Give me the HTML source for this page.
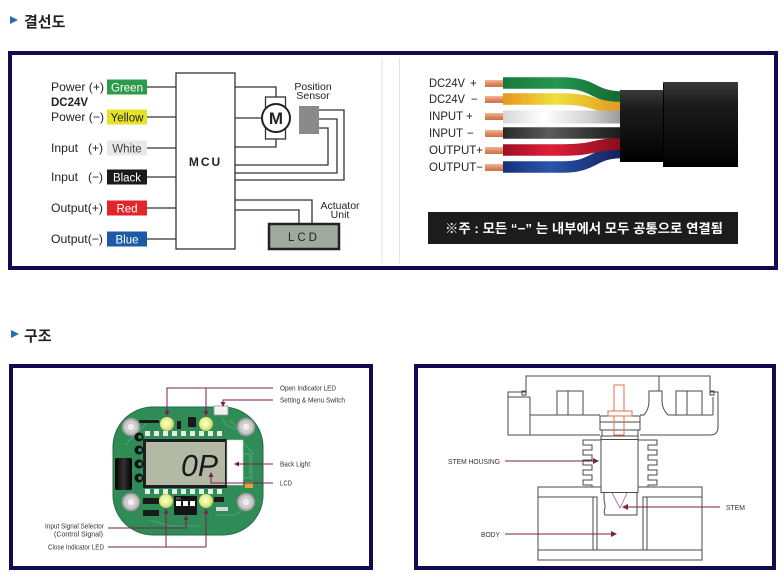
<!DOCTYPE html>
<html><head><meta charset="utf-8">
<style>
html,body{margin:0;padding:0;background:#fff;}
svg{display:block;}
text{font-family:"Liberation Sans","Noto Sans CJK KR",sans-serif;}
.k{font-family:"Liberation Sans","Noto Sans CJK KR",sans-serif;}
</style></head>
<body>
<svg width="784" height="575" viewBox="0 0 784 575" xmlns="http://www.w3.org/2000/svg">
<defs>
  <linearGradient id="gG" x1="503" y1="0" x2="620" y2="0" gradientUnits="userSpaceOnUse">
    <stop offset="0" stop-color="#157a3c"/><stop offset="0.45" stop-color="#24964f"/><stop offset="1" stop-color="#146a34"/></linearGradient>
  <linearGradient id="gY" x1="503" y1="0" x2="620" y2="0" gradientUnits="userSpaceOnUse">
    <stop offset="0" stop-color="#e8961c"/><stop offset="0.45" stop-color="#efe03c"/><stop offset="1" stop-color="#e49a1e"/></linearGradient>
  <linearGradient id="gW" x1="503" y1="0" x2="620" y2="0" gradientUnits="userSpaceOnUse">
    <stop offset="0" stop-color="#d6d6d6"/><stop offset="0.35" stop-color="#ffffff"/><stop offset="0.75" stop-color="#d0d0d0"/><stop offset="1" stop-color="#9a9a9a"/></linearGradient>
  <linearGradient id="gK" x1="503" y1="0" x2="620" y2="0" gradientUnits="userSpaceOnUse">
    <stop offset="0" stop-color="#2a2a2a"/><stop offset="0.4" stop-color="#5a5a5a"/><stop offset="1" stop-color="#1a1a1a"/></linearGradient>
  <linearGradient id="gR" x1="503" y1="0" x2="620" y2="0" gradientUnits="userSpaceOnUse">
    <stop offset="0" stop-color="#9c1022"/><stop offset="0.4" stop-color="#e01e3a"/><stop offset="1" stop-color="#8a0e1e"/></linearGradient>
  <linearGradient id="gB" x1="503" y1="0" x2="620" y2="0" gradientUnits="userSpaceOnUse">
    <stop offset="0" stop-color="#17307e"/><stop offset="0.4" stop-color="#2a56ac"/><stop offset="1" stop-color="#15205e"/></linearGradient>
  <linearGradient id="gC" x1="0" y1="0" x2="0" y2="1">
    <stop offset="0" stop-color="#3a3a3a"/><stop offset="0.25" stop-color="#1c1c1c"/><stop offset="0.7" stop-color="#0c0c0c"/><stop offset="1" stop-color="#000"/></linearGradient>
  <linearGradient id="gCu" x1="0" y1="0" x2="0" y2="1">
    <stop offset="0" stop-color="#f2b896"/><stop offset="0.5" stop-color="#e08a62"/><stop offset="1" stop-color="#c8704c"/></linearGradient>
  <linearGradient id="gCyl" x1="0" y1="0" x2="1" y2="0">
    <stop offset="0" stop-color="#000"/><stop offset="0.5" stop-color="#333"/><stop offset="1" stop-color="#000"/></linearGradient>
  <radialGradient id="gLed" cx="0.45" cy="0.45" r="0.6">
    <stop offset="0" stop-color="#fbffd8"/><stop offset="0.6" stop-color="#e6ee84"/><stop offset="1" stop-color="#b8c060"/></radialGradient>
  <radialGradient id="gScr" cx="0.5" cy="0.5" r="0.5">
    <stop offset="0" stop-color="#f4f4f4"/><stop offset="0.6" stop-color="#d2d2d2"/><stop offset="1" stop-color="#9a9a9a"/></radialGradient>
</defs>

<!-- Headers -->
<polygon points="10,16 18,20 10,24" fill="#2a6db5"/>
<text x="24" y="27" font-size="15" font-weight="bold" fill="#222" class="k">결선도</text>
<polygon points="11,330 19,334 11,338" fill="#2a6db5"/>
<text x="24" y="341" font-size="15" font-weight="bold" fill="#222" class="k">구조</text>

<!-- Top panel frame -->
<rect x="10" y="53" width="766" height="215" fill="#fff" stroke="#0f0b4e" stroke-width="4"/>
<line x1="382" y1="58" x2="382" y2="263" stroke="#e2e2e2" stroke-width="1"/>
<line x1="399.5" y1="58" x2="399.5" y2="263" stroke="#e2e2e2" stroke-width="1"/>

<!-- Left wiring diagram -->
<g font-size="12" fill="#222">
  <text x="51" y="91" textLength="53" lengthAdjust="spacingAndGlyphs">Power (+)</text>
  <text x="51" y="106" font-weight="bold" textLength="37" lengthAdjust="spacingAndGlyphs">DC24V</text>
  <text x="51" y="121" textLength="53" lengthAdjust="spacingAndGlyphs">Power (−)</text>
  <text x="51" y="152" textLength="27" lengthAdjust="spacingAndGlyphs">Input</text>
  <text x="88" y="152" textLength="15" lengthAdjust="spacingAndGlyphs">(+)</text>
  <text x="51" y="181" textLength="27" lengthAdjust="spacingAndGlyphs">Input</text>
  <text x="88" y="181" textLength="15" lengthAdjust="spacingAndGlyphs">(−)</text>
  <text x="51" y="212" textLength="52" lengthAdjust="spacingAndGlyphs">Output(+)</text>
  <text x="51" y="243" textLength="52" lengthAdjust="spacingAndGlyphs">Output(−)</text>
</g>
<rect x="107" y="79.5" width="40" height="15" fill="#2e9a4c"/>
<rect x="107" y="109.5" width="40" height="15" fill="#e6e224"/>
<rect x="107" y="140.5" width="40" height="15" fill="#e8e8e8"/>
<rect x="107" y="169.5" width="40" height="15" fill="#1a1a1a"/>
<rect x="107" y="200.5" width="40" height="15" fill="#e0262b"/>
<rect x="107" y="231.5" width="40" height="15" fill="#1b5aa6"/>
<g font-size="11.5" text-anchor="middle">
  <text x="127" y="91.5" fill="#fff">Green</text>
  <text x="127" y="121.5" fill="#222">Yellow</text>
  <text x="127" y="152.5" fill="#444">White</text>
  <text x="127" y="181.5" fill="#fff">Black</text>
  <text x="127" y="212.5" fill="#fff">Red</text>
  <text x="127" y="243.5" fill="#fff">Blue</text>
</g>
<g stroke="#333" stroke-width="1.3" fill="none">
  <line x1="147" y1="87" x2="176" y2="87"/>
  <line x1="147" y1="117" x2="176" y2="117"/>
  <line x1="147" y1="148" x2="176" y2="148"/>
  <line x1="147" y1="177" x2="176" y2="177"/>
  <line x1="147" y1="208" x2="176" y2="208"/>
  <line x1="147" y1="239" x2="176" y2="239"/>
  <rect x="176" y="73" width="59" height="176" fill="#fff"/>
  <polyline points="235,87 276,87 276,97"/>
  <line x1="235" y1="118" x2="262" y2="118"/>
  <polyline points="235,147 276,147 276,139"/>
  <rect x="265.5" y="97" width="20" height="42" fill="#fff"/>
  <polyline points="319,110 344,110 344,180 235,180"/>
  <polyline points="319,119 337,119 337,173 235,173"/>
  <polyline points="319,128 328,128 328,165 235,165"/>
  <polyline points="235,200 312,200 312,223"/>
  <polyline points="235,210 299,210 299,223"/>
</g>
<text x="205.5" y="166" font-size="12" font-weight="bold" text-anchor="middle" fill="#222" letter-spacing="2">MCU</text>
<circle cx="276" cy="118" r="14" fill="#fff" stroke="#222" stroke-width="2"/>
<text x="276" y="124" font-size="17" font-weight="bold" text-anchor="middle" fill="#222">M</text>
<rect x="299" y="106" width="20" height="28" fill="#8a8a8a"/>
<text x="313" y="90" font-size="10.5" text-anchor="middle" fill="#222">Position</text>
<text x="313" y="99" font-size="10.5" text-anchor="middle" fill="#222">Sensor</text>
<text x="340" y="209" font-size="10.5" text-anchor="middle" fill="#222">Actuator</text>
<text x="340" y="218" font-size="10.5" text-anchor="middle" fill="#222">Unit</text>
<rect x="269" y="224" width="70" height="25" fill="#9eaa9e" stroke="#222" stroke-width="2.5"/>
<text x="304" y="241" font-size="11.5" text-anchor="middle" fill="#222" letter-spacing="3">LCD</text>

<!-- Right cable diagram -->
<g font-size="11.5" fill="#222">
  <text x="429" y="87" textLength="36" lengthAdjust="spacingAndGlyphs">DC24V</text>
  <text x="470" y="87">+</text>
  <text x="429" y="103" textLength="36" lengthAdjust="spacingAndGlyphs">DC24V</text>
  <text x="471" y="103">−</text>
  <text x="429" y="120" textLength="34" lengthAdjust="spacingAndGlyphs">INPUT</text>
  <text x="466" y="120">+</text>
  <text x="429" y="137" textLength="34" lengthAdjust="spacingAndGlyphs">INPUT</text>
  <text x="467" y="137">−</text>
  <text x="429" y="154" textLength="54" lengthAdjust="spacingAndGlyphs">OUTPUT+</text>
  <text x="429" y="171" textLength="54" lengthAdjust="spacingAndGlyphs">OUTPUT−</text>
</g>
<g fill="url(#gCu)">
  <rect x="485" y="80" width="18" height="7"/>
  <rect x="485" y="96" width="18" height="7"/>
  <rect x="485" y="113" width="18" height="7"/>
  <rect x="485" y="130" width="18" height="7"/>
  <rect x="485" y="147" width="18" height="7"/>
  <rect x="485" y="164" width="18" height="7"/>
</g>
<g fill="none" stroke-width="11.5">
  <path d="M503,83 L562,83 C596,83 592,97 622,97" stroke="url(#gG)"/>
  <path d="M503,99 L562,99 C596,99 592,107.5 622,107.5" stroke="url(#gY)"/>
  <path d="M503,117 L622,117" stroke="url(#gW)" stroke-width="13"/>
  <path d="M503,133 L622,133" stroke="url(#gK)"/>
  <path d="M503,167 L562,167 C596,167 592,152.5 622,152.5" stroke="url(#gB)"/>
  <path d="M503,150 L562,150 C596,150 592,144 622,144" stroke="url(#gR)"/>
</g>
<rect x="620" y="90" width="44" height="72" fill="url(#gC)"/>
<rect x="663" y="82" width="75" height="85" fill="url(#gC)"/>
<line x1="663.5" y1="84" x2="663.5" y2="165" stroke="#000" stroke-width="1"/>

<rect x="428" y="212" width="310" height="32" fill="#1c1c1c"/>
<text x="445" y="233" font-size="13" font-weight="bold" fill="#fff" class="k" textLength="278" lengthAdjust="spacingAndGlyphs">※주 : 모든 “−” 는 내부에서 모두 공통으로 연결됨</text>

<!-- Bottom panels frames -->
<rect x="11" y="366" width="360" height="202" fill="#fff" stroke="#0f0b4e" stroke-width="4"/>
<rect x="416" y="366" width="358" height="202" fill="#fff" stroke="#0f0b4e" stroke-width="4"/>

<!-- PCB -->
<rect x="113" y="407" width="150" height="128" rx="40" ry="40" fill="#2f8c56" stroke="#236c42" stroke-width="1"/>
<g stroke="#56b07c" stroke-width="0.8" fill="none" opacity="0.9">
  <polyline points="125,445 150,420 175,420"/>
  <polyline points="240,440 252,452 252,480"/>
  <polyline points="120,470 135,470"/>
  <polyline points="230,420 240,432 248,432"/>
  <polyline points="150,520 170,526 200,526"/>
  <polyline points="215,515 235,515 250,505"/>
  <polyline points="222,417 226,425 236,430"/>
</g>
<!-- pad rows -->
<g fill="#e6efe6">
  <rect x="145" y="431" width="5" height="5"/><rect x="154" y="431" width="5" height="5"/><rect x="163" y="431" width="5" height="5"/><rect x="172" y="431" width="5" height="5"/><rect x="181" y="431" width="5" height="5"/><rect x="190" y="431" width="5" height="5"/><rect x="199" y="431" width="5" height="5"/><rect x="208" y="431" width="5" height="5"/><rect x="217" y="431" width="5" height="5"/>
  <rect x="145" y="489" width="5" height="5"/><rect x="154" y="489" width="5" height="5"/><rect x="163" y="489" width="5" height="5"/><rect x="172" y="489" width="5" height="5"/><rect x="181" y="489" width="5" height="5"/><rect x="190" y="489" width="5" height="5"/><rect x="199" y="489" width="5" height="5"/><rect x="208" y="489" width="5" height="5"/><rect x="217" y="489" width="5" height="5"/>
</g>
<g fill="#1a1a1a">
  <rect x="139" y="420" width="20" height="3"/>
  <rect x="177" y="421" width="4" height="8"/>
  <rect x="188" y="417" width="8" height="10"/>
  <rect x="143" y="498" width="16" height="6"/>
  <rect x="143" y="510" width="16" height="6"/>
  <rect x="214" y="497" width="10" height="5"/>
</g>
<rect x="216" y="507" width="12" height="4" fill="#d8d8d8"/>
<rect x="214" y="406" width="14" height="9" fill="#f2f2f2" stroke="#999" stroke-width="0.8"/>
<rect x="243" y="454" width="7" height="24" fill="none" stroke="#5fb585" stroke-width="0.8"/>
<rect x="245" y="482" width="8" height="6" fill="#e8a040"/>
<!-- screws -->
<g>
  <circle cx="131" cy="427" r="9" fill="url(#gScr)" stroke="#888" stroke-width="0.8"/>
  <circle cx="246" cy="427" r="9" fill="url(#gScr)" stroke="#888" stroke-width="0.8"/>
  <circle cx="131" cy="502" r="9" fill="url(#gScr)" stroke="#888" stroke-width="0.8"/>
  <circle cx="246" cy="502" r="9" fill="url(#gScr)" stroke="#888" stroke-width="0.8"/>
  <circle cx="131" cy="427" r="4" fill="#eee" stroke="#aaa" stroke-width="0.6"/>
  <circle cx="246" cy="427" r="4" fill="#eee" stroke="#aaa" stroke-width="0.6"/>
  <circle cx="131" cy="502" r="4" fill="#eee" stroke="#aaa" stroke-width="0.6"/>
  <circle cx="246" cy="502" r="4" fill="#eee" stroke="#aaa" stroke-width="0.6"/>
</g>
<!-- C shapes -->
<g fill="#111">
  <circle cx="139" cy="437" r="4.5"/><circle cx="139" cy="450" r="4.5"/><circle cx="139" cy="464" r="4.5"/><circle cx="139" cy="478" r="4.5"/>
</g>
<g fill="#2f8c56">
  <circle cx="140" cy="437" r="2"/><circle cx="140" cy="450" r="2"/><circle cx="140" cy="464" r="2"/><circle cx="140" cy="478" r="2"/>
</g>
<!-- black cylinder -->
<rect x="115" y="458" width="17" height="32" rx="2" fill="url(#gCyl)"/>
<!-- LCD -->
<rect x="143" y="439" width="84" height="49" fill="#1e1e1e"/>
<rect x="146" y="442" width="79" height="43" fill="#b4b9a6"/>
<rect x="227" y="440" width="16" height="45" fill="#fff" stroke="#d0d0d0" stroke-width="0.6"/>
<text x="181" y="476" font-size="31" font-style="italic" fill="#1a1a1a" textLength="37" lengthAdjust="spacingAndGlyphs">0P</text>
<!-- LEDs -->
<circle cx="167" cy="424" r="7" fill="url(#gLed)"/>
<circle cx="206" cy="424" r="7" fill="url(#gLed)"/>
<circle cx="166" cy="501" r="7" fill="url(#gLed)"/>
<circle cx="206" cy="501" r="7" fill="url(#gLed)"/>
<!-- DIP -->
<rect x="174" y="496" width="23" height="19" fill="#141414"/>
<rect x="176" y="501" width="5" height="5" fill="#fff"/>
<rect x="183" y="501" width="5" height="5" fill="#fff"/>
<rect x="190" y="501" width="5" height="5" fill="#fff"/>
<text x="176" y="499.5" font-size="3" fill="#fff">ON</text>

<!-- PCB callouts -->
<g stroke="#7b1f4f" stroke-width="1" fill="none">
  <polyline points="167,412 167,388 273,388"/>
  <line x1="206" y1="388" x2="206" y2="412"/>
  <polyline points="223,403 223,400 273,400"/>
  <line x1="238" y1="464" x2="273" y2="464"/>
  <polyline points="211,476 211,483 273,483"/>
  <polyline points="108,528 186,528 186,519"/>
  <line x1="108" y1="547" x2="206" y2="547"/>
  <line x1="166" y1="547" x2="166" y2="513"/>
  <line x1="206" y1="547" x2="206" y2="513"/>
</g>
<g fill="#7b1f4f">
  <polygon points="164.5,411 169.5,411 167,416"/>
  <polygon points="203.5,411 208.5,411 206,416"/>
  <polygon points="220.5,402 225.5,402 223,407"/>
  <polygon points="239,461.5 239,466.5 234,464"/>
  <polygon points="208.5,477 213.5,477 211,472"/>
  <polygon points="183.5,520 188.5,520 186,515"/>
  <polygon points="163.5,514 168.5,514 166,509"/>
  <polygon points="203.5,514 208.5,514 206,509"/>
</g>
<g font-size="7.5" fill="#333">
  <text x="280" y="390.5" textLength="56" lengthAdjust="spacingAndGlyphs">Open Indicator LED</text>
  <text x="280" y="402.5" textLength="65" lengthAdjust="spacingAndGlyphs">Setting &amp; Menu Switch</text>
  <text x="280" y="466.5" textLength="30" lengthAdjust="spacingAndGlyphs">Back Light</text>
  <text x="280" y="485.5" textLength="12" lengthAdjust="spacingAndGlyphs">LCD</text>
  <text x="45" y="528.5" textLength="59" lengthAdjust="spacingAndGlyphs">Input Signal Selector</text>
  <text x="54" y="536.5" textLength="49" lengthAdjust="spacingAndGlyphs">(Control Signal)</text>
  <text x="48" y="549.5" textLength="56" lengthAdjust="spacingAndGlyphs">Close Indicator LED</text>
</g>

<!-- Valve drawing -->
<g stroke="#4a4a4a" stroke-width="1" fill="none">
  <polyline points="526,392 526,376 710,376 710,392"/>
  <rect x="522" y="391" width="4" height="4"/>
  <rect x="710" y="391" width="4" height="4"/>
  <polyline points="526,392 508,392 508,435 600,435"/>
  <line x1="530" y1="397" x2="530" y2="435"/>
  <line x1="508" y1="397" x2="530" y2="397"/>
  <line x1="530" y1="415" x2="600" y2="415"/>
  <line x1="640" y1="415" x2="644" y2="415"/>
  <path d="M644,415 Q649,409 649,401 L649,391 L662,391 L662,401 Q662,409 668,415 L713,415"/>
  <line x1="659" y1="376" x2="659" y2="391"/>
  <rect x="557" y="391" width="26" height="24"/>
  <line x1="568" y1="391" x2="568" y2="415"/>
  <rect x="676" y="391" width="26" height="24"/>
  <line x1="687" y1="391" x2="687" y2="415"/>
  <path d="M710,392 L718,392 L718,427 Q718,435 710,435 L640,435"/>
  <line x1="713" y1="397" x2="713" y2="415"/>
  <rect x="600" y="416" width="40" height="14"/>
  <line x1="600" y1="422" x2="640" y2="422"/>
  <line x1="602" y1="430" x2="602" y2="436"/>
  <line x1="638" y1="430" x2="638" y2="436"/>
  <rect x="601" y="436" width="37" height="3.5"/>
  <rect x="601" y="439.5" width="37" height="53"/>
  <!-- left fins -->
  <path d="M601,440 L583,440 L583,445 L592,445 L592,450 L583,450 L583,455 L592,455 L592,460 L583,460 L583,465 L592,465 L592,470 L583,470 L583,475 L592,475 L592,480 L583,480 L583,485 L592,485 L592,487"/>
  <!-- right fins -->
  <path d="M638,440 L657,440 L657,445 L648,445 L648,450 L657,450 L657,455 L648,455 L648,460 L657,460 L657,465 L648,465 L648,470 L657,470 L657,475 L648,475 L648,480 L657,480 L657,485 L648,485 L648,487"/>
  <!-- body -->
  <polyline points="601,487 538,487 538,560 702,560 702,487 638,487"/>
  <line x1="538" y1="550" x2="702" y2="550"/>
  <polyline points="538,497 597,497 597,550"/>
  <line x1="593" y1="497" x2="593" y2="550"/>
  <polyline points="702,497 643,497 643,550"/>
  <line x1="647" y1="497" x2="647" y2="550"/>
  <path d="M604,493 L604,500 Q606,506 604,512 L605,515 L637,515 L637,493"/>
</g>
<g stroke="#e0704a" stroke-width="1" fill="none">
  <rect x="614" y="385" width="10" height="26"/>
  <rect x="608" y="411" width="24" height="5"/>
  <rect x="614" y="416" width="10" height="19"/>
</g>
<polyline points="612,493 620,508 627,493" fill="none" stroke="#a0609a" stroke-width="0.8"/>
<g stroke="#7b1f4f" stroke-width="1">
  <line x1="505" y1="461" x2="594" y2="461"/>
  <line x1="627" y1="507" x2="720" y2="507"/>
  <line x1="505" y1="534" x2="612" y2="534"/>
</g>
<g fill="#7b1f4f">
  <polygon points="593,458 593,464 599,461"/>
  <polygon points="628,504 628,510 622,507"/>
  <polygon points="611,531 611,537 617,534"/>
</g>
<g font-size="7.5" fill="#333">
  <text x="448" y="464" textLength="52" lengthAdjust="spacingAndGlyphs">STEM HOUSING</text>
  <text x="726" y="510" textLength="19" lengthAdjust="spacingAndGlyphs">STEM</text>
  <text x="481" y="537" textLength="19" lengthAdjust="spacingAndGlyphs">BODY</text>
</g>
</svg>
</body></html>
